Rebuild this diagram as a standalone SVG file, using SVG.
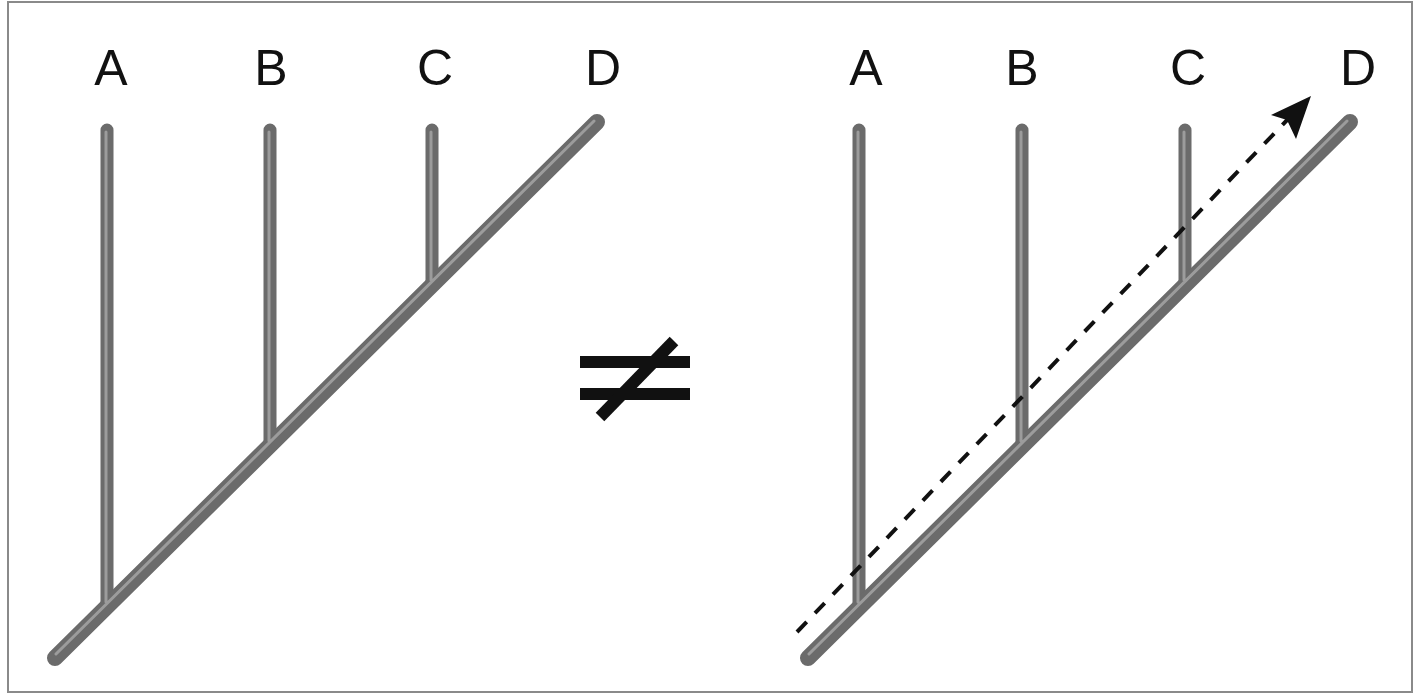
<svg xmlns="http://www.w3.org/2000/svg" width="1414" height="695" viewBox="0 0 1414 695">
<defs>
<style>
.lbl{font-family:"Liberation Sans",Arial,sans-serif;font-size:50px;fill:#111;text-anchor:middle}
.tube{stroke:#6b6b6b;stroke-width:13;stroke-linecap:round;fill:none}
.diag{stroke:#6b6b6b;stroke-width:16;stroke-linecap:round;fill:none}
.hi{stroke:#9c9c9c;stroke-width:3;stroke-linecap:round;fill:none}
.ne{stroke:#111;stroke-width:12;fill:none}
</style>
</defs>
<rect x="8" y="2" width="1404" height="690" fill="#fff" stroke="#8a8a8a" stroke-width="2"/>
<g id="left-tree">
<path class="tube" d="M107,130 V605 M270,130 V444 M432,130 V283"/>
<path class="diag" d="M55,658 L597,122"/>
<path class="hi" d="M106,132 V602 M269,132 V441 M431,132 V280 M56,654 L594,121"/>
<text class="lbl" x="111" y="85">A</text>
<text class="lbl" x="271" y="85">B</text>
<text class="lbl" x="435" y="85">C</text>
<text class="lbl" x="603" y="85">D</text>
</g>
<g id="right-tree">
<path class="tube" d="M859,130 V605 M1022,130 V444 M1185,130 V283"/>
<path class="diag" d="M808,658 L1350,122"/>
<path class="hi" d="M858,132 V602 M1021,132 V441 M1184,132 V280 M809,654 L1347,121"/>
<text class="lbl" x="866" y="85">A</text>
<text class="lbl" x="1022" y="85">B</text>
<text class="lbl" x="1188" y="85">C</text>
<text class="lbl" x="1358" y="85">D</text>
</g>
<g id="not-equal">
<path class="ne" d="M580,362 H690 M580,394 H690"/>
<path class="ne" stroke-width="14" d="M600,417 L674,341"/>
</g>
<g id="connectors">
<path d="M797,632 L1290,117" stroke="#111" stroke-width="4" stroke-dasharray="14,12" fill="none"/>
<path d="M1311,96 L1296,139 L1287,120 L1271,115 Z" fill="#111"/>
</g>
</svg>
